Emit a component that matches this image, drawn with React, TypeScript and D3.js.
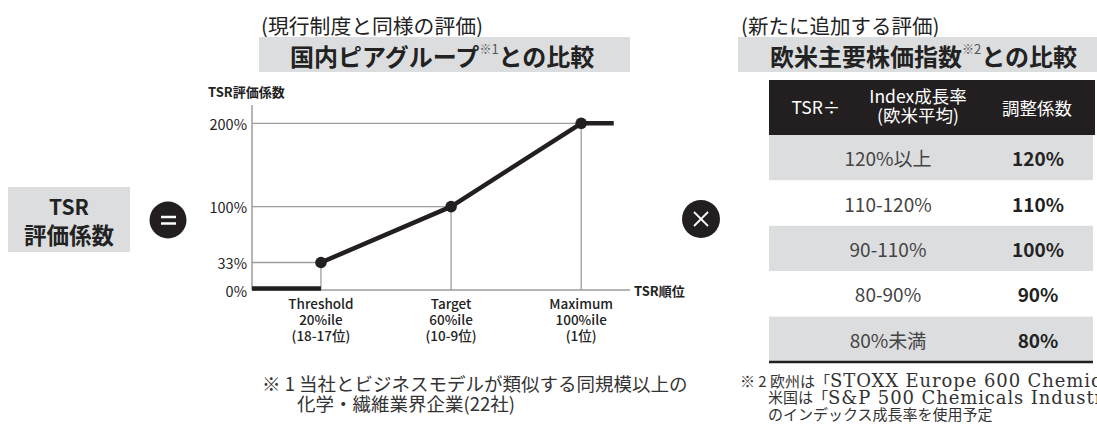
import React from "react";
import * as d3 from "d3";

// ---- data ----
const yTicks = [0, 33, 100, 200];
const yTickLabels = ["0%", "33%", "100%", "200%"];
const pointPercentiles = [20, 60, 100];
const pointValues = [33, 100, 200];
const pointLabels = [
  ["Threshold", "20%ile", "(18-17位)"],
  ["Target", "60%ile", "(10-9位)"],
  ["Maximum", "100%ile", "(1位)"],
];
const floorPercentiles = [-1.2, 20];
const floorValues = [0, 0];
const capPercentiles = [100, 110];
const capValues = [200, 200];

const tableRanges = ["120%以上", "110-120%", "90-110%", "80-90%", "80%未満"];
const tableCoefs = ["120%", "110%", "100%", "90%", "80%"];

const W = 1097;
const H = 432;
const SANS = "'Noto Sans CJK JP', 'Noto Sans', sans-serif";
const LATIN_SERIF = "'DejaVu Serif', 'Liberation Serif', serif";
const DARK = "#231f20";
const GRAY = "#dcddde";
const GRID = "#9d9d9d";

export default function App() {
  const x = d3.scaleLinear().domain([-1.2, 115]).range([252, 630]);
  const y = d3.scaleLinear().domain([0, 200]).range([290, 123.3]);
  const axisTop = y(222);

  const line = d3
    .line<[number, number]>()
    .x((d) => x(d[0]))
    .y((d) => y(d[1]));

  const mainPts: [number, number][] = pointPercentiles.map((p, i) => [p, pointValues[i]]);
  const floorPts: [number, number][] = floorPercentiles.map((p, i) => [p, floorValues[i]]);
  const capPts: [number, number][] = capPercentiles.map((p, i) => [p, capValues[i]]);

  const tx0 = 769;
  const tx1 = 1093;
  const headTop = 80;
  const headBot = 135;
  const rowH = 45.4;
  const rowY = d3.scaleLinear().domain([0, 1]).range([headBot, headBot + rowH]);

  return (
    <svg
      width={W}
      height={H}
      viewBox={`0 0 ${W} ${H}`}
      style={{ position: "absolute", left: 0, top: 0, background: "#fff" }}
      fontFamily={SANS}
    >
      {/* left header */}
      <text x={261} y={25} fontSize={20.8} fill="#222" dominantBaseline="central">
        (現行制度と同様の評価)
      </text>
      <rect x={259} y={37} width={371} height={35} fill={GRAY} />
      <text x={290} y={55} fontSize={24} fontWeight={700} fill="#222" dominantBaseline="central">
        国内ピアグループ
        <tspan fontSize={12} dy={-7} fontWeight={400} fill="#555">※</tspan>
        <tspan fontSize={13} fontWeight={400} fill="#555">1</tspan>
        <tspan dy={7}>との比較</tspan>
      </text>

      {/* right header */}
      <text x={741} y={25} fontSize={20.5} fill="#222" dominantBaseline="central">
        (新たに追加する評価)
      </text>
      <rect x={738} y={37} width={W - 738} height={35} fill={GRAY} />
      <text x={770} y={55} fontSize={24} fontWeight={700} fill="#222" dominantBaseline="central">
        欧米主要株価指数
        <tspan fontSize={12} dy={-7} fontWeight={400} fill="#555">※</tspan>
        <tspan fontSize={13} fontWeight={400} fill="#555">2</tspan>
        <tspan dy={7}>との比較</tspan>
      </text>

      {/* TSR box */}
      <rect x={8} y={187} width={122} height={65} fill={GRAY} />
      <text x={69} y={206} fontSize={21} fontWeight={700} fill="#222" textAnchor="middle" dominantBaseline="central">
        TSR
      </text>
      <text x={69} y={234} fontSize={22.5} fontWeight={700} fill="#222" textAnchor="middle" dominantBaseline="central">
        評価係数
      </text>

      {/* = circle */}
      <circle cx={168} cy={220} r={18.5} fill={DARK} />
      <line x1={161} x2={176} y1={217} y2={217} stroke="#fff" strokeWidth={2.5} />
      <line x1={161} x2={176} y1={223.5} y2={223.5} stroke="#fff" strokeWidth={2.5} />

      {/* × circle */}
      <circle cx={701} cy={219} r={19} fill={DARK} />
      <line x1={694} x2={708} y1={212} y2={226} stroke="#fff" strokeWidth={1.8} />
      <line x1={694} x2={708} y1={226} y2={212} stroke="#fff" strokeWidth={1.8} />

      {/* chart */}
      <text x={208} y={91} fontSize={13} fontWeight={700} fill="#222" dominantBaseline="central">
        TSR評価係数
      </text>
      {mainPts.map((p, i) => (
        <g key={"g" + i}>
          <line x1={x(-1.2)} x2={x(p[0])} y1={y(p[1])} y2={y(p[1])} stroke={GRID} strokeWidth={1.3} />
          <line x1={x(p[0])} x2={x(p[0])} y1={y(p[1])} y2={y(0)} stroke={GRID} strokeWidth={1.3} />
        </g>
      ))}
      <line x1={x(-1.2)} x2={x(-1.2)} y1={axisTop} y2={y(0)} stroke={GRID} strokeWidth={1.5} />
      <line x1={x(-1.2)} x2={x(115)} y1={y(0)} y2={y(0)} stroke={GRID} strokeWidth={1.5} />
      {yTicks.map((t, i) => (
        <text
          key={"yt" + i}
          x={247}
          y={y(t)}
          fontSize={14.5}
          fill="#222"
          textAnchor="end"
          dominantBaseline="central"
        >
          {yTickLabels[i]}
        </text>
      ))}
      <text x={634} y={y(0)} fontSize={13} fontWeight={700} fill="#222" dominantBaseline="central">
        TSR順位
      </text>
      {pointPercentiles.map((p, i) => (
        <g key={"xl" + i}>
          {pointLabels[i].map((s, j) => (
            <text
              key={j}
              x={x(p)}
              y={303 + j * 16}
              fontSize={13.5}
              fontWeight={500}
              fill="#222"
              textAnchor="middle"
              dominantBaseline="central"
            >
              {s}
            </text>
          ))}
        </g>
      ))}
      <path d={line(floorPts) || ""} stroke={DARK} strokeWidth={4.5} fill="none" transform="translate(0,-1.5)" />
      <path d={line(capPts) || ""} stroke={DARK} strokeWidth={4.5} fill="none" />
      <path d={line(mainPts) || ""} stroke={DARK} strokeWidth={4.5} fill="none" strokeLinejoin="round" />
      {mainPts.map((p, i) => (
        <circle key={"pt" + i} cx={x(p[0])} cy={y(p[1])} r={5.8} fill={DARK} />
      ))}

      {/* table */}
      <rect x={tx0} y={headTop} width={tx1 - tx0 + 2} height={headBot - headTop} fill={DARK} />
      <text x={816} y={106} fontSize={17.5} fill="#fff" textAnchor="middle" dominantBaseline="central">
        TSR÷
      </text>
      <text x={918} y={95} fontSize={17.5} fill="#fff" textAnchor="middle" dominantBaseline="central">
        Index成長率
      </text>
      <text x={918} y={114} fontSize={17.5} fill="#fff" textAnchor="middle" dominantBaseline="central">
        (欧米平均)
      </text>
      <text x={1037} y={107} fontSize={17.5} fill="#fff" textAnchor="middle" dominantBaseline="central">
        調整係数
      </text>
      {tableRanges.map((r, i) => (
        <g key={"row" + i}>
          <rect
            x={tx0}
            y={rowY(i)}
            width={tx1 - tx0}
            height={rowH}
            fill={i % 2 === 0 ? GRAY : "#fff"}
          />
          <text
            x={888}
            y={rowY(i + 0.5)}
            fontSize={19}
            fill="#444"
            textAnchor="middle"
            dominantBaseline="central"
          >
            {r}
          </text>
          <text
            x={1038}
            y={rowY(i + 0.5)}
            fontSize={19}
            fontWeight={700}
            fill="#222"
            textAnchor="middle"
            dominantBaseline="central"
          >
            {tableCoefs[i]}
          </text>
        </g>
      ))}
      <line x1={tx0} x2={tx1} y1={rowY(5)} y2={rowY(5)} stroke={DARK} strokeWidth={2.5} />

      {/* footnotes */}
      <g fontSize={18.5} fill="#333">
        <text x={262} y={383} dominantBaseline="central">
          ※ 1 当社とビジネスモデルが類似する同規模以上の
        </text>
        <text x={297} y={403} dominantBaseline="central">
          化学・繊維業界企業(22社)
        </text>
      </g>
      <g fontSize={15} fill="#333">
        <text x={740} y={380} dominantBaseline="central">
          ※ 2 欧州は「
          <tspan fontFamily={LATIN_SERIF} fontSize={18} letterSpacing={0.9}>
            STOXX Europe 600 Chemicals
          </tspan>
          」、
        </text>
        <text x={768} y={396.5} dominantBaseline="central">
          米国は「
          <tspan fontFamily={LATIN_SERIF} fontSize={18} letterSpacing={0.9}>
            S&amp;P 500 Chemicals Industry
          </tspan>
          」
        </text>
        <text x={768} y={413} dominantBaseline="central">
          のインデックス成長率を使用予定
        </text>
      </g>
    </svg>
  );
}
